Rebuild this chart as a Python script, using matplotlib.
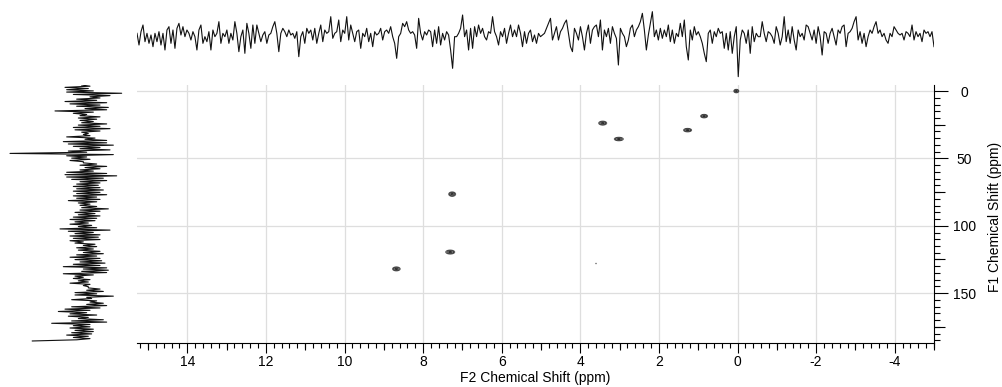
import numpy as np
import matplotlib
matplotlib.use('Agg')
import matplotlib.pyplot as plt
from matplotlib.ticker import MultipleLocator

plt.rcParams['font.family'] = ['Liberation Sans', 'DejaVu Sans']
plt.rcParams['axes.unicode_minus'] = False

# --- axis ranges (ppm) ---
f2_lim = (15.28, -5.0)
f1_lim = (187.0, -4.5)

# --- cross peaks: F2 shift, F1 shift, height, half widths ---
peak_f2 = [0.03, 0.85, 1.27, 3.43, 3.02, 7.26, 7.31, 8.68, 3.60]
peak_f1 = [0.0, 18.6, 29.0, 23.8, 35.6, 76.5, 119.5, 132.0, 128.0]
peak_amp = [1.0, 1.0, 1.0, 1.0, 1.0, 1.0, 1.0, 1.0, 0.2]
peak_wf2 = [0.046, 0.064, 0.074, 0.074, 0.083, 0.064, 0.083, 0.070, 0.015]
peak_wf1 = [0.95, 0.95, 0.95, 1.08, 0.95, 1.2, 1.08, 1.08, 0.4]

# --- F2 projection (top trace), arbitrary units ---
top_trace = [
    # 15.3 .. 7.8 ppm
    10, -25, 15, 35, -15, 10, -20, 5, -30, 10, -15, 15, -25, 10, -40, 20, 30, -20, 20, -35,
    25, 40, 5, 30, 0, 20, 10, -10, 15, 0, -40, 20, 35, -20, 0, -15, 15, -40, 20, 0,
    10, 45, -20, 10, 0, 20, -20, 10, -10, 45, 10, -45, 0, 20, -50, 40, 10, -35, 35, -20,
    35, 10, -15, 5, 15, -20, 5, 10, 30, 45, 10, -45, 10, 25, 15, 0, 20, 5, 10, -5,
    15, -60, 0, 15, -20, 25, 10, 20, -10, 25, -20, 10, 35, -15, 20, 10, 15, 60, -5, 10,
    15, 50, -15, 20, 10, 60, -10, 35, 10, -15, 15, 20, -35, 10, 0, 25, -15, 10, -30, 15,
    5, 10, 25, -10, 15, 20, 10, 30, 0, -20, -65, 0, 10, 40, 30, 45, 20, 10, 15, 5,
    -35, 55, 10, -10, 15, 5, 20,
    # 7.8 .. 1.0 ppm
    15, -30, 20, -20, 30, -25, 10, -10, 15, 5, -40, -95, 0, 0, 10, 25, 65, 0, 20, -40,
    25, -35, 30, 0, 35, 10, 25, 0, -10, 15, 10, 60, 15, 0, -25, 15, 0, 25, -20, 10,
    35, 0, 20, 0, 35, 10, -30, 15, -20, 10, 20, -15, 5, -20, 10, 0, 5, 10, 25, 40,
    55, -10, 10, 30, -10, 15, 25, 40, 50, 10, -30, -45, 25, 10, -10, 30, 0, -40, 10, 35,
    -20, 20, 30, 35, 0, 50, -40, 20, 0, 25, -20, 30, 10, -5, -85, 25, 10, 0, -30, -10,
    25, 35, 0, 20, 30, 45, 70, 20, -40, 5, 40, 75, 0, 20, -10, 25, -5, 20, 0, 35,
    -15, 20, -20, 10, 0, 40, 0, 50, -30, -70, 20, -10, 30, 5, 15,
    # 1.0 .. -5.0 ppm
    0, -20, -50, -75, 10, 20, -20, 15, 0, 25, 10, 15, -35, 10, -40, 15, -50, 0, 30, -120,
    -10, 20, 10, -20, 20, -50, 30, -15, 10, 0, 0, 45, 10, -15, 15, 10, 0, -20, 30, 10,
    -25, 0, 60, -15, 20, -20, 30, -10, -40, 20, 0, 10, -10, 35, 30, 10, -10, 20, -20, 30,
    0, -55, 15, 10, -20, 10, 25, 0, -25, 20, 10, 30, 35, -30, 10, 15, 25, 45, 60, -10,
    15, -20, 10, -30, 0, 20, 10, 30, 45, 10, 20, 0, 10, -10, -20, 10, 0, 30, 20, 10,
    5, 10, -10, 15, 10, 0, 35, -10, 15, 0, 10, -15, 20, 10, 15, 0, 15, -30,
]

# --- F1 projection (left trace), arbitrary units ---
left_trace = [
    -10, 15, -60, 10, -55, 25, -55, 110, -35, 75, 15, 45, -25, 35, -60, 65, -45, 45, -25, 70,
    0, 65, -90, 25, -35, 5, -15, 45, -20, 35, -15, 25, -10, 65, -20, 45, -35, 75, -30, 45,
    -10, 10, -5, 15, -55, 30, 0, 65, -65, 65, -50, 85, -35, 45, -15, 75, -50, 5, -225, 85,
    -55, 5, -40, 15, -45, -5, -5, 35, -15, 65, 0, 45, -15, 25, -55, 65, -60, 95, -55, 55,
    -40, 65, -15, 45, -25, 40, -35, 45, -25, 55, -35, 45, -25, 65, -35, 35, -25, 45, -50, 35,
    -20, 15, -15, 35, -10, 70, -15, 45, -30, 30, -20, 45, -35, 35, -45, 30, -30, 10, -45, 20,
    -20, 35, -75, 75, -50, 25, -30, 45, -45, 40,
    -35, 45, -45, -5, -30, 30, -5, 35, -25, 25, -20, 45, -5, 55, -25, 35, -45, 45, -30, 50,
    -15, 60, -35, 45, -65, 65, -5, 70, -10, 65, -65, 25, -30, -5, -35, 15, -20, 10, -45, 15,
    -5, 10, 10, 45, 5, 55, -30, 35, -30, 85, 5, 20, -40, 35, 15, 55, 5, 65, -40, 45,
    -60, 15, -80, 5, -45, 35, -50, 10, -20, 55, -40, 65, -100, 15, -35, 15, -45, 25, -30, 25,
    -40, 20, -55, 10, -35, 15, -25, -158,
]

# --- 2D spectrum built from the peak list ---
f2_axis = np.arange(-5.0, 15.3, 0.01)
f1_axis = np.arange(-4.5, 187.0, 0.15)
X, Y = np.meshgrid(f2_axis, f1_axis)
Z = np.zeros_like(X)
for x0, y0, a, wx, wy in zip(peak_f2, peak_f1, peak_amp, peak_wf2, peak_wf1):
    Z += a * np.exp(-((X - x0) / wx) ** 2 - ((Y - y0) / wy) ** 2)

W, H = 1003, 387
fig = plt.figure(figsize=(W / 100, H / 100), dpi=100)

ax = fig.add_axes([137 / W, 1 - 343 / H, (934 - 137) / W, (343 - 85) / H])
ax_top = fig.add_axes([137 / W, 1 - 80 / H, (934 - 137) / W, 75 / H])
ax_left = fig.add_axes([0, 1 - 343 / H, 130 / W, (343 - 85) / H])

ax.contour(X, Y, Z, levels=[0.15, 0.35, 0.6, 0.85],
           colors=['#555555', '#2a2a2a', '#666666', '#2a2a2a'], linewidths=0.7)
ax.set_xlim(*f2_lim)
ax.set_ylim(*f1_lim)

for s in ['top', 'left']:
    ax.spines[s].set_visible(False)
ax.spines['bottom'].set_linewidth(0.8)
ax.spines['right'].set_linewidth(0.8)
ax.yaxis.tick_right()
ax.xaxis.set_major_locator(MultipleLocator(2))
ax.xaxis.set_minor_locator(MultipleLocator(0.2))
ax.yaxis.set_major_locator(MultipleLocator(50))
ax.yaxis.set_minor_locator(MultipleLocator(5))
ax.tick_params(axis='x', which='major', length=7, width=0.8, pad=2, labelsize=10)
ax.tick_params(axis='x', which='minor', length=3.3, width=0.8)
ax.tick_params(axis='y', which='major', length=10, width=0.8, pad=12, labelsize=10)
ax.tick_params(axis='y', which='minor', length=4, width=0.8)
for lab in ax.get_yticklabels():
    lab.set_horizontalalignment('center')
ax.grid(True, which='major', color='#dedede', linewidth=0.9)
ax.set_axisbelow(True)

# medium ticks at odd ppm (F2) and every 25 ppm (F1)
sec_x = ax.secondary_xaxis('bottom')
sec_x.set_xticks(np.arange(-5, 16, 2))
sec_x.tick_params(length=5, width=0.8, labelbottom=False)
sec_x.spines['bottom'].set_visible(False)
sec_y = ax.secondary_yaxis('right')
sec_y.set_yticks([25, 75, 125, 175])
sec_y.tick_params(length=8, width=0.8, labelright=False)
sec_y.spines['right'].set_visible(False)

# top projection
top_x = np.linspace(f2_lim[0], f2_lim[1], len(top_trace))
ax_top.plot(top_x, top_trace, color='#111111', linewidth=0.8)
ax_top.set_xlim(*f2_lim)
ax_top.set_ylim(-130, 95)
ax_top.axis('off')

# left projection
left_y = np.linspace(-4.5, 185.5, len(left_trace))
ax_left.plot(left_trace, left_y, color='#111111', linewidth=0.8)
ax_left.set_xlim(-255, 135)
ax_left.set_ylim(*f1_lim)
ax_left.axis('off')

fig.text(535.5 / W, 1 - 378 / H, 'F2 Chemical Shift (ppm)', ha='center', va='center', fontsize=10)
fig.text(995 / W, 1 - 217 / H, 'F1 Chemical Shift (ppm)', ha='center', va='center',
         rotation=90, fontsize=10)

fig.savefig('out.png', dpi=100)
